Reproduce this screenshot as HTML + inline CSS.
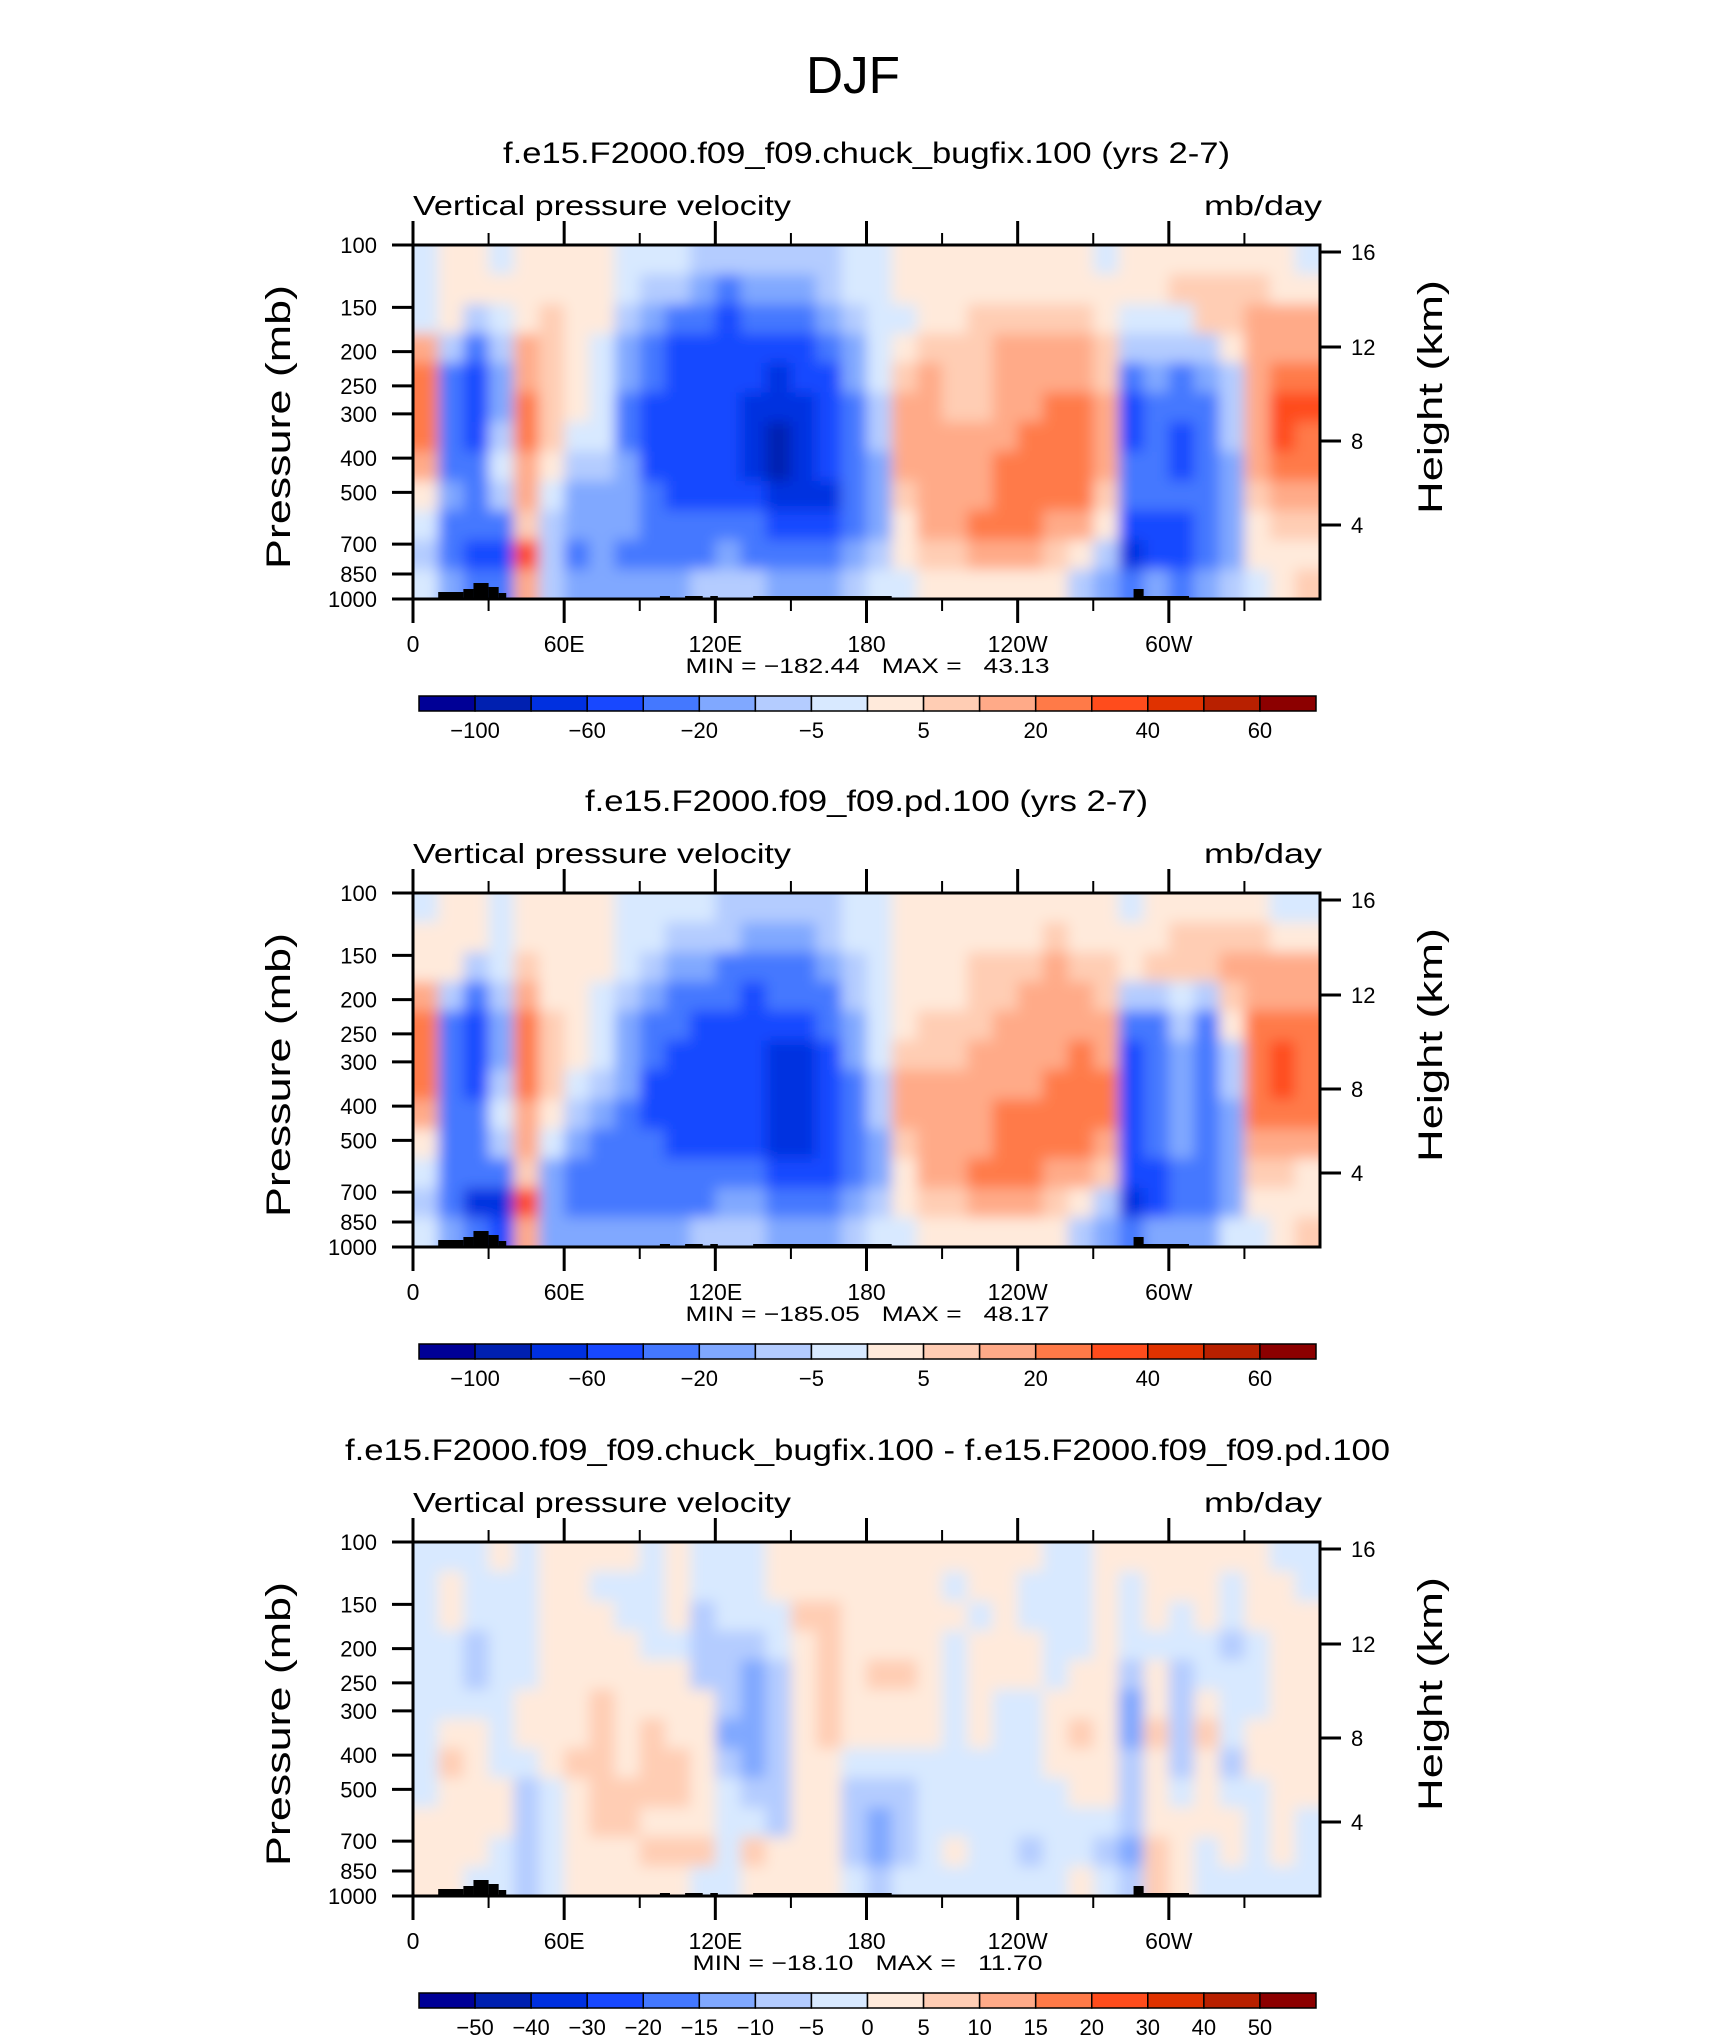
<!DOCTYPE html>
<html><head><meta charset="utf-8"><style>
html,body{margin:0;padding:0;background:#fff;}
svg{display:block;}
text{font-family:"Liberation Sans",sans-serif;fill:#000;}
</style></head><body>
<svg id="fig" width="1710" height="2038" viewBox="0 0 1710 2038" xmlns="http://www.w3.org/2000/svg">
<text x="853" y="93" text-anchor="middle" font-size="52" font-weight="300" textLength="94" lengthAdjust="spacingAndGlyphs">DJF</text>
</svg>
<script>
// ---- data ----
const lonEdges = [0,10,20,30,40,50,60,70,80,90,100,110,120,130,140,150,160,170,180,190,200,210,220,230,240,250,260,270,280,290,300,310,320,330,340,350,360];
const presEdges = [100,121,147,178,215,261,316,383,464,562,681,825,1000];
const levels12 = [-100,-80,-60,-40,-20,-10,-5,0,5,10,20,30,40,50,60];
const labels12 = ["-100","-60","-20","-5","5","20","40","60"];
const levels3 = [-50,-40,-30,-20,-15,-10,-5,0,5,10,15,20,30,40,50];
const labels3 = ["-50","-40","-30","-20","-15","-10","-5","0","5","10","15","20","30","40","50"];
const palette = ["#000096","#0020b0","#0030e0","#1848ff","#4478ff","#80a8ff","#b4ccff","#d8e9ff","#ffeadb","#ffcdb4","#ffaa88","#ff7a48","#ff4c1c","#e03200","#b82000","#8c0000"];
// each inner array: one 10-degree longitude column, values from 100mb (top) to 1000mb (bottom)
const field1 = [
[-3,-3,-3,15,25,25,25,15,3,-3,-7,-3],
[3,3,3,-7,-30,-30,-30,-30,-15,-30,-30,-15],
[3,3,-7,-30,-50,-50,-50,-30,-30,-30,-50,-30],
[-3,3,-3,-7,-15,-15,-7,-3,-7,-30,-50,-30],
[3,3,3,15,15,25,25,15,15,7,35,15],
[3,3,7,7,7,7,7,3,-3,-7,-7,-7],
[3,3,3,3,3,3,-3,-7,-15,-15,-30,-15],
[3,3,3,-3,-3,-3,-3,-7,-15,-15,-15,-15],
[-3,-3,-7,-15,-15,-30,-30,-15,-15,-15,-30,-15],
[-3,-7,-15,-30,-30,-50,-50,-50,-30,-30,-30,-15],
[-3,-7,-30,-50,-50,-50,-50,-50,-50,-30,-30,-15],
[-7,-15,-30,-50,-50,-50,-50,-50,-50,-30,-30,-7],
[-7,-30,-50,-50,-50,-50,-50,-50,-50,-30,-15,-7],
[-7,-15,-30,-50,-50,-70,-70,-70,-50,-30,-30,-7],
[-7,-15,-30,-50,-70,-70,-90,-90,-70,-50,-30,-15],
[-7,-15,-30,-50,-50,-70,-70,-70,-70,-50,-30,-15],
[-7,-7,-15,-30,-50,-50,-50,-50,-70,-50,-30,-15],
[-3,-3,-7,-15,-15,-30,-30,-30,-30,-30,-15,-7],
[-3,-3,-3,-3,-3,-7,-7,-15,-15,-15,-7,-3],
[3,3,-3,3,7,15,15,15,7,3,3,-3],
[3,3,3,7,15,15,15,15,15,15,7,3],
[3,3,3,7,7,7,15,15,15,15,7,3],
[3,3,7,7,7,7,15,15,15,25,15,3],
[3,3,7,15,15,15,15,25,25,25,15,3],
[3,3,7,15,15,15,25,25,25,25,15,3],
[3,3,7,15,15,25,25,25,25,15,7,3],
[3,3,7,15,15,25,25,25,25,15,3,-7],
[-3,3,3,7,7,15,15,15,7,3,-7,-15],
[3,3,-3,-7,-30,-50,-50,-30,-30,-50,-70,-30],
[3,3,-3,-7,-15,-30,-30,-30,-30,-50,-50,-15],
[3,7,-3,-7,-30,-30,-50,-50,-30,-50,-50,-30],
[3,7,7,-7,-15,-30,-30,-30,-30,-30,-30,-15],
[3,7,7,3,-7,-7,-7,-15,-15,-15,-15,-7],
[3,7,15,15,15,15,15,15,7,3,3,-3],
[3,3,15,15,25,35,35,25,15,7,3,3],
[-3,3,15,15,25,35,25,25,15,7,3,7]
];
const field2 = [
[-3,3,3,15,25,25,25,15,3,-3,-7,-3],
[3,3,3,-7,-30,-30,-30,-30,-30,-30,-30,-15],
[3,3,-7,-30,-50,-50,-50,-30,-30,-30,-70,-30],
[-3,-3,-3,-7,-15,-15,-7,-3,-7,-30,-70,-50],
[3,3,7,15,25,25,25,15,15,7,35,15],
[3,3,3,3,7,7,7,3,-3,-15,-15,-15],
[3,3,3,3,3,3,-3,-7,-15,-30,-30,-15],
[3,3,3,-3,-3,-3,-7,-15,-30,-30,-30,-15],
[-3,-3,-3,-7,-15,-15,-15,-30,-30,-30,-30,-15],
[-3,-3,-7,-15,-30,-30,-50,-50,-30,-30,-30,-15],
[-3,-7,-15,-30,-30,-50,-50,-50,-50,-30,-30,-15],
[-3,-7,-15,-30,-50,-50,-50,-50,-50,-30,-30,-7],
[-7,-7,-30,-30,-50,-50,-50,-50,-50,-30,-15,-7],
[-7,-15,-30,-50,-50,-50,-50,-50,-50,-30,-15,-7],
[-7,-15,-30,-30,-50,-70,-70,-70,-70,-50,-30,-15],
[-7,-15,-30,-30,-50,-70,-70,-70,-70,-50,-30,-15],
[-7,-7,-15,-30,-30,-50,-50,-50,-50,-50,-30,-15],
[-3,-3,-7,-7,-15,-15,-30,-30,-30,-30,-15,-7],
[-3,-3,-3,-3,-3,-3,-7,-7,-15,-15,-7,-3],
[3,3,3,3,3,7,15,15,7,3,3,-3],
[3,3,3,3,7,7,15,15,15,15,7,3],
[3,3,3,3,7,7,15,15,15,15,7,3],
[3,3,7,7,7,15,15,15,15,25,15,3],
[3,3,7,7,15,15,15,25,25,25,15,3],
[3,3,7,15,15,15,15,25,25,25,15,3],
[3,7,15,15,15,15,25,25,25,15,7,3],
[3,3,7,15,15,25,25,25,25,15,3,-7],
[3,3,7,7,15,15,25,25,15,7,-7,-15],
[-3,3,3,-7,-30,-50,-50,-50,-50,-50,-70,-30],
[3,3,7,-7,-30,-30,-30,-30,-30,-50,-50,-15],
[3,7,7,-3,-7,-15,-15,-15,-15,-30,-30,-15],
[3,7,7,-7,-30,-30,-30,-30,-30,-30,-30,-15],
[3,7,15,7,3,-7,-7,-15,-15,-15,-15,-3],
[3,7,15,15,25,25,25,25,15,7,3,-3],
[-3,3,15,15,25,35,35,25,15,7,3,3],
[-3,3,15,15,25,25,25,25,15,3,3,7]
];
const field3 = [
[-2,-2,-2,-2,-2,-2,-2,-2,-2,2,2,2],
[-2,2,2,-2,-2,-2,2,7,2,2,2,2],
[-2,-2,-2,-7,-7,-2,2,2,2,2,2,-2],
[2,-2,-2,-2,-2,-2,-2,-2,2,2,-2,-2],
[-2,-2,-2,-2,-2,2,2,-2,-7,-7,-7,-7],
[2,2,2,2,2,2,2,2,-2,-2,-2,-2],
[2,2,2,2,2,2,2,7,2,2,2,2],
[2,-2,2,2,2,7,7,7,7,7,2,2],
[2,-2,-2,2,2,2,2,2,7,7,2,2],
[-2,-2,-2,-2,2,2,7,7,7,2,7,2],
[2,2,2,-2,2,2,2,7,7,2,7,2],
[-2,-2,-7,-7,-7,2,2,2,2,2,7,-2],
[-2,-2,-2,-7,-7,-7,-12,-7,-2,-2,-2,-2],
[-2,-2,-2,-7,-12,-12,-12,-12,-7,-2,7,2],
[2,2,-2,-2,-7,-7,-7,-7,-7,-7,2,2],
[2,2,7,2,2,2,2,2,2,2,2,2],
[2,2,7,7,7,7,7,2,2,2,2,2],
[2,2,2,2,2,2,2,-2,-7,-7,-7,-2],
[2,2,2,2,7,2,2,-2,-7,-12,-12,-7],
[2,2,2,2,7,2,2,-2,-7,-7,-7,-2],
[2,2,2,2,2,2,2,-2,-2,-2,-2,-2],
[2,-2,2,-2,-2,-2,-2,-2,-2,-2,2,-2],
[2,2,-2,2,2,2,2,-2,-2,-2,-2,-2],
[2,2,2,2,2,-2,-2,-2,-2,-2,-2,-2],
[2,-2,-2,2,2,-2,-2,-2,-2,-2,-7,-2],
[-2,-2,-2,-2,-2,2,2,2,-2,-2,-2,-2],
[-2,-2,-2,-2,2,2,7,2,2,-2,-2,2],
[2,2,2,2,2,2,2,2,2,-2,-7,-2],
[2,-2,-2,-2,-7,-12,-12,-7,-7,-7,-12,-7],
[2,2,2,-2,2,2,7,2,2,2,7,7],
[2,2,-2,-2,-7,-7,-7,-7,-2,2,2,2],
[2,2,2,-2,-2,2,7,2,2,2,-2,-2],
[2,-2,-2,-7,-2,-2,-2,-7,-2,2,2,-2],
[2,2,2,-2,-2,-2,2,2,-2,-2,-2,-2],
[-2,2,2,2,2,2,2,2,2,2,2,-2],
[-2,-2,2,2,2,2,2,2,2,-2,-2,-2]
];
// topography blocks: longitude range and height of terrain (px above axis)
const topoStart = [10,20,24,30,34,98,108,118,135,286,288];
const topoEnd =   [20,24,30,34,37,102,115,121,190,290,308];
const topoHeight =[7,10,16,12,6,3,3,3,3,10,3];
const titles = ["f.e15.F2000.f09_f09.chuck_bugfix.100 (yrs 2-7)","f.e15.F2000.f09_f09.pd.100 (yrs 2-7)","f.e15.F2000.f09_f09.chuck_bugfix.100 - f.e15.F2000.f09_f09.pd.100"];
const titleWidths = [727,563,1045];
const minMax = ["MIN = \u2212182.44\u00a0\u00a0\u00a0MAX =\u00a0\u00a0\u00a043.13","MIN = \u2212185.05\u00a0\u00a0\u00a0MAX =\u00a0\u00a0\u00a048.17","MIN = \u221218.10\u00a0\u00a0\u00a0MAX =\u00a0\u00a0\u00a011.70"];
const minMaxWidths = [364,364,350];
const pTicks = [100,150,200,250,300,400,500,700,850,1000];
const hTicks = [16,12,8,4];
const hTickOffsets = [7,102,196,280];
const lonTicks = [0,60,120,180,240,300];
const lonLabels = ["0","60E","120E","180","120W","60W"];
const minorLon = [30,90,150,210,270,330];

// ---- drawing ----
const NS="http://www.w3.org/2000/svg";
const svg=document.getElementById('fig');
function mk(tag,attrs,parent){const e=document.createElementNS(NS,tag);for(const k in attrs)e.setAttribute(k,attrs[k]);(parent||svg).appendChild(e);return e;}
const X0=413,X1=1320,H=354;
const xS=l=>X0+(X1-X0)*l/360;
function colorFor(v,lv){let i=0;while(i<lv.length&&v>=lv[i])i++;return palette[i];}
const defs=mk('defs',{});
const blur=mk('filter',{id:'soft',filterUnits:'userSpaceOnUse',x:'0',y:'0',width:'1710',height:'2038'},defs);
mk('feGaussianBlur',{stdDeviation:'7'},blur);

const panels=[{top:245,field:field1,lv:levels12,lab:labels12,bar:696},{top:893,field:field2,lv:levels12,lab:labels12,bar:1344},{top:1542,field:field3,lv:levels3,lab:labels3,bar:1993}];
panels.forEach((p,pi)=>{
  const T=p.top,B=T+H;
  const yS=pr=>T+H*Math.log10(pr/100);
  const g=mk('g',{});
  
  
  const t=mk('text',{x:(X0+X1)/2+(pi==2?1:0),y:T-82,'text-anchor':'middle','font-size':30,textLength:titleWidths[pi],lengthAdjust:'spacingAndGlyphs'},g);
  t.textContent=titles[pi];
  
  
  const lt=mk('text',{x:X0,y:T-30,'font-size':28,'font-weight':300,textLength:378,lengthAdjust:'spacingAndGlyphs'},g);
  lt.textContent='Vertical pressure velocity';
  
  
  const ut=mk('text',{x:X1+2,y:T-30,'font-size':28,'font-weight':300,'text-anchor':'end',textLength:118,lengthAdjust:'spacingAndGlyphs'},g);
  ut.textContent='mb/day';
  
  
  const cid='clip'+pi;
  const cp=mk('clipPath',{id:cid},defs);
  mk('rect',{x:X0,y:T,width:X1-X0,height:H},cp);
  const outer=mk('g',{'clip-path':'url(#'+cid+')'},g);
  const cells=mk('g',{filter:'url(#soft)'},outer);
  
  
  p.field.forEach((col,ci)=>{
    col.forEach((v,ri)=>{
      let x=xS(lonEdges[ci]),x2=xS(lonEdges[ci+1]);
      let y=yS(presEdges[ri]),y2=yS(presEdges[ri+1]);
      if(ci==0)x-=20; if(ci==p.field.length-1)x2+=20;
      if(ri==0)y-=20; if(ri==col.length-1)y2+=20;
      const r=mk('rect',{x:x,y:y,width:x2-x+0.6,height:y2-y+0.6,fill:colorFor(v,p.lv)},cells);
      
      
    });
  });
  topoStart.forEach((s,i)=>{
    const r=mk('rect',{x:xS(s),y:B-topoHeight[i],width:xS(topoEnd[i])-xS(s),height:topoHeight[i],fill:'#000'},outer);
    
    
  });
  const fr=mk('rect',{x:X0,y:T,width:X1-X0,height:H,fill:'none',stroke:'#000','stroke-width':3},g);
  
  
  lonTicks.forEach((l,i)=>{
    const x=xS(l);
    mk('line',{x1:x,x2:x,y1:T,y2:T-24,stroke:'#000','stroke-width':3},g);
    mk('line',{x1:x,x2:x,y1:B,y2:B+24,stroke:'#000','stroke-width':3},g);
    const tl=mk('text',{x:x,y:B+53,'text-anchor':'middle','font-size':23,'font-weight':300},g);
    tl.textContent=lonLabels[i];
    
    
  });
  minorLon.forEach(l=>{const x=xS(l);
    mk('line',{x1:x,x2:x,y1:T,y2:T-12,stroke:'#000','stroke-width':2},g);
    mk('line',{x1:x,x2:x,y1:B,y2:B+12,stroke:'#000','stroke-width':2},g);});
  pTicks.forEach(pv=>{const y=yS(pv);
    mk('line',{x1:X0-21,x2:X0,y1:y,y2:y,stroke:'#000','stroke-width':3},g);
    const tl=mk('text',{x:377,y:y+8,'text-anchor':'end','font-size':22,'font-weight':300},g);
    tl.textContent=String(pv);
    
    });
  hTicks.forEach((h,i)=>{const y=T+hTickOffsets[i];
    mk('line',{x1:X1,x2:X1+21,y1:y,y2:y,stroke:'#000','stroke-width':3},g);
    const tl=mk('text',{x:1351,y:y+8,'font-size':22,'font-weight':300},g);
    tl.textContent=String(h);
    
    });
  const ya=mk('text',{x:0,y:0,'text-anchor':'middle','font-size':34,'font-weight':300,transform:'translate(290,'+(T+H/2+5)+') rotate(-90)',textLength:284,lengthAdjust:'spacingAndGlyphs'},g);
  ya.textContent='Pressure (mb)';
  
  
  const ha=mk('text',{x:0,y:0,'text-anchor':'middle','font-size':34,'font-weight':300,transform:'translate(1442,'+(T+H/2-25)+') rotate(-90)',textLength:234,lengthAdjust:'spacingAndGlyphs'},g);
  ha.textContent='Height (km)';
  
  
  const mm=mk('text',{x:(X0+X1)/2+1,y:B+74,'text-anchor':'middle','font-size':21,'font-weight':300,textLength:minMaxWidths[pi],lengthAdjust:'spacingAndGlyphs'},g);
  mm.textContent=minMax[pi];
  
  
  // colorbar
  const cb=mk('g',{},g);
  
  
  const CX0=419,CX1=1316,bw=(CX1-CX0)/palette.length;
  palette.forEach((c,i)=>{
    const r=mk('rect',{x:CX0+i*bw,y:p.bar,width:bw,height:15,fill:c,stroke:'#000','stroke-width':1.5},cb);
    
    
  });
  p.lab.forEach((s,i)=>{
    const bi = p.lab.length===8 ? 2*i+1 : i+1;
    const tl=mk('text',{x:CX0+bi*bw,y:p.bar+42,'text-anchor':'middle','font-size':22,'font-weight':300},cb);
    tl.textContent=s.replace('-','\u2212');
    
    
  });
});
</script>
</body></html>
